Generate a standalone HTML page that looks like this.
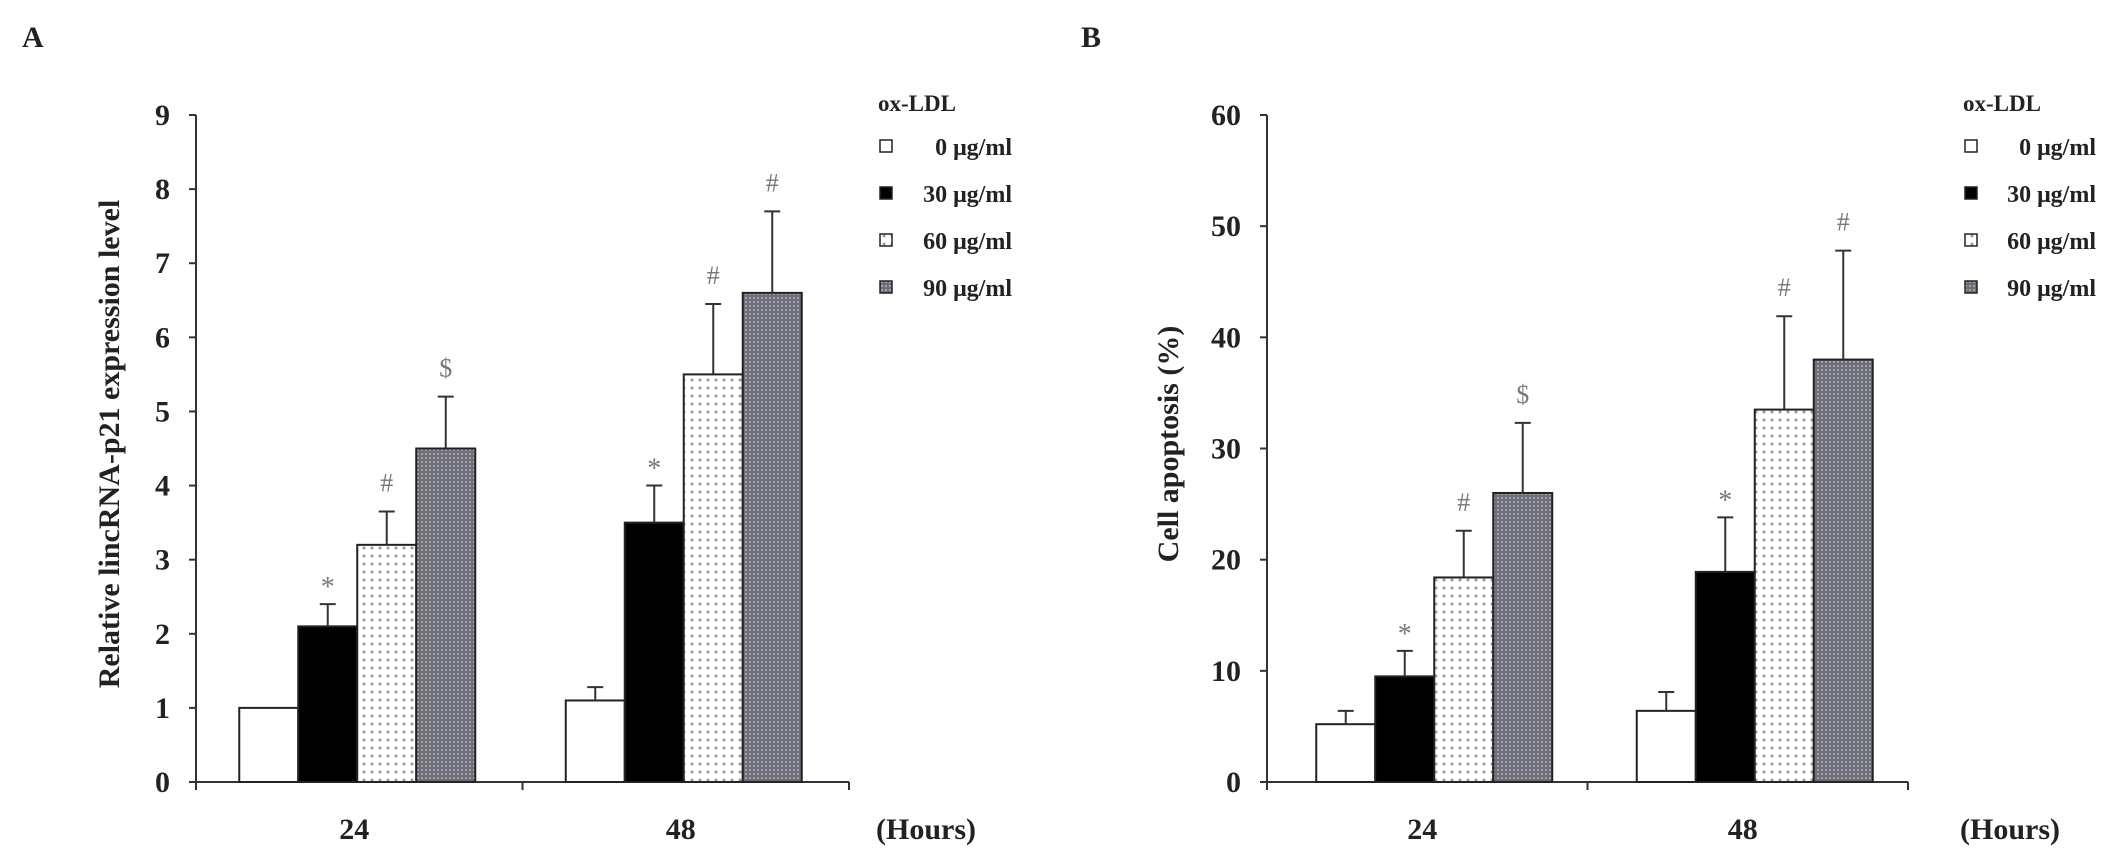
<!DOCTYPE html>
<html><head><meta charset="utf-8">
<style>
html,body{margin:0;padding:0;background:#fff;}
svg{display:block;}
text{font-family:"Liberation Serif",serif;font-weight:bold;fill:#222;}
</style></head>
<body>
<svg id="chart" width="2126" height="867" viewBox="0 0 2126 867" xmlns="http://www.w3.org/2000/svg">
<defs>
<pattern id="pDot" width="8" height="8" patternUnits="userSpaceOnUse">
<rect width="8" height="8" fill="#fff"/><circle cx="4" cy="4" r="1.5" fill="#999"/>
</pattern>
<pattern id="pDark" width="4" height="4" patternUnits="userSpaceOnUse">
<rect width="4" height="4" fill="#6e6e78"/><circle cx="2" cy="2" r="1" fill="#b4b4bc"/>
</pattern>
</defs>
</svg>
<script>
const categories = ["24", "48"];
const seriesNames = ["0 μg/ml", "30 μg/ml", "60 μg/ml", "90 μg/ml"];
const aValues = [[1.0, 2.1, 3.2, 4.5], [1.1, 3.5, 5.5, 6.6]];
const aErrors = [[1.0, 2.4, 3.65, 5.2], [1.28, 4.0, 6.45, 7.7]];
const aMarks = [["", "*", "#", "$"], ["", "*", "#", "#"]];
const aTicks = [0,1,2,3,4,5,6,7,8,9];
const bValues = [[5.2, 9.5, 18.4, 26], [6.4, 18.9, 33.5, 38]];
const bErrors = [[6.4, 11.8, 22.6, 32.3], [8.1, 23.8, 41.9, 47.8]];
const bMarks = [["", "*", "#", "$"], ["", "*", "#", "#"]];
const bTicks = [0,10,20,30,40,50,60];

const svg = document.getElementById('chart');
const NS = "http://www.w3.org/2000/svg";
const fills = ["#fff", "#000", "url(#pDot)", "url(#pDark)"];
function mk(tag, attrs, parent){
  const e = document.createElementNS(NS, tag);
  for (const k in attrs) e.setAttribute(k, attrs[k]);
  (parent||svg).appendChild(e); return e;
}
function panel(o){
  const g = mk('g', {});
  
  
  const y0 = 782, yTop = 115;
  const ymax = o.ticks[o.ticks.length-1];
  const ys = v => y0 - (v / ymax) * (y0 - yTop);
  const axL = o.axisX, axR = o.axisEnd;
  const mid = (axL + axR) / 2;
  const groupW = (axR - axL) / categories.length;
  const barW = 59;
  const L = mk('text', {x:o.letterX, y:47, 'font-size':30}, g); L.textContent = o.letter;
   
  const ya = mk('line', {x1:axL, y1:yTop, x2:axL, y2:y0, stroke:'#333', 'stroke-width':2}, g);
   
  o.ticks.forEach(t => {
    const y = ys(t);
    mk('line', {x1:axL-7, y1:y, x2:axL, y2:y, stroke:'#333', 'stroke-width':2}, g);
    const tx = mk('text', {x:axL-26, y:y+10, 'font-size':30, 'text-anchor':'end'}, g);
    tx.textContent = t;
     
  });
  const xa = mk('line', {x1:axL, y1:y0, x2:axR, y2:y0, stroke:'#333', 'stroke-width':2}, g);
   
  [axL, mid, axR].forEach(x => mk('line', {x1:x, y1:y0, x2:x, y2:y0+8, stroke:'#333', 'stroke-width':2}, g));
  const yt = mk('text', {x:0, y:0, 'font-size':30, 'text-anchor':'middle', transform:`translate(${o.titleX},444) rotate(-90)`}, g);
  yt.textContent = o.title;
   
  categories.forEach((c, ci) => {
    const cx = axL + groupW * (ci + 0.5);
    const cl = mk('text', {x:cx - 5, y:839, 'font-size':30, 'text-anchor':'middle'}, g);
    cl.textContent = c;
     
    const start = cx - 2 * barW + o.shift;
    o.values[ci].forEach((v, si) => {
      const x = start + si * barW;
      const yv = ys(v);
      const r = mk('rect', {x:x, y:yv, width:barW, height:y0-yv, fill:fills[si], stroke:'#222', 'stroke-width':2}, g);
      
      
      const ye = ys(o.errors[ci][si]);
      const bx = x + barW/2;
      if (o.errors[ci][si] > v) {
        const el = mk('line', {x1:bx, y1:yv, x2:bx, y2:ye, stroke:'#333', 'stroke-width':2}, g);
         
        mk('line', {x1:bx-8, y1:ye, x2:bx+8, y2:ye, stroke:'#333', 'stroke-width':2}, g);
      }
      const m = o.marks[ci][si];
      if (m) {
        const mt = mk('text', {x:bx, y:ye - (m === '*' ? 8 : 20), 'font-size':m === '*' ? 28 : 26, 'text-anchor':'middle', style:'font-weight:normal;fill:#777'}, g);
        mt.textContent = m;
         
      }
    });
  });
  const hr = mk('text', {x:o.hoursX, y:839, 'font-size':30, 'text-anchor':'middle'}, g);
  hr.textContent = '(Hours)';
   
  const lg = mk('g', {}, g);
   
  const lt = mk('text', {x:o.legX - 8, y:111, 'font-size':23}, lg); lt.textContent = 'ox-LDL';
   
  seriesNames.forEach((s, si) => {
    const y = 146 + si * 47;
    const e = mk('g', {}, lg);
     
    mk('rect', {x:o.legX-6, y:y-6, width:12, height:12, fill:fills[si], stroke:'#222', 'stroke-width':1.5}, e);
    const t = mk('text', {x:o.legEnd, y:y+9, 'font-size':24, 'text-anchor':'end'}, e);
    t.textContent = s;
  });
}
panel({name:'panel-a', letter:'A', letterX:22, axisX:196, axisEnd:849, shift:-2, values:aValues, errors:aErrors, marks:aMarks, ticks:aTicks, title:'Relative lincRNA-p21 expression level', titleX:119, hoursX:926, legX:886, legEnd:1012});
panel({name:'panel-b', letter:'B', letterX:1081, axisX:1267, axisEnd:1908, shift:7, values:bValues, errors:bErrors, marks:bMarks, ticks:bTicks, title:'Cell apoptosis (%)', titleX:1178, hoursX:2010, legX:1971, legEnd:2096});
</script>
</body></html>
